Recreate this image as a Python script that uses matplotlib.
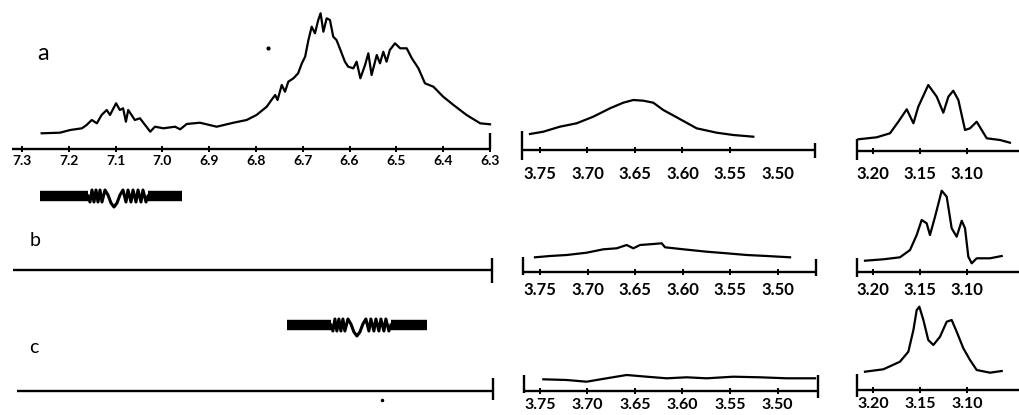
import matplotlib
matplotlib.use('Agg')
import matplotlib.pyplot as plt

plt.rcParams['font.family'] = ['Lato', 'DejaVu Sans']

# ---------------- data (ppm, intensity in arbitrary units) ----------------
a1_ppm = [7.258, 7.219, 7.197, 7.172, 7.162, 7.151, 7.140, 7.130, 7.119, 7.112,
          7.099, 7.091, 7.084, 7.078, 7.073, 7.066, 7.059, 7.048, 7.037, 7.026,
          7.016, 6.998, 6.973, 6.962, 6.948, 6.920, 6.884, 6.848, 6.820, 6.799,
          6.777, 6.767, 6.759, 6.754, 6.745, 6.738, 6.731, 6.720, 6.710, 6.702,
          6.695, 6.688, 6.681, 6.674, 6.667, 6.662, 6.656, 6.649, 6.642, 6.635,
          6.628, 6.621, 6.610, 6.603, 6.592, 6.585, 6.577, 6.567, 6.560, 6.553,
          6.542, 6.535, 6.528, 6.521, 6.514, 6.503, 6.492, 6.478, 6.467, 6.453,
          6.439, 6.421, 6.400, 6.378, 6.350, 6.321, 6.300]
a1_int = [15.7, 16.3, 19, 20.7, 24, 29, 25.7, 34, 39, 34,
          45.7, 39, 40.7, 27.3, 39, 34, 29, 30.7, 24, 17.3,
          22.3, 20.7, 22.3, 19.7, 25, 26.3, 22.3, 26.3, 29, 34,
          42.3, 49, 54, 49, 64, 57.3, 67.3, 70.7, 75.7, 85.7,
          92.3, 109, 122.3, 115.7, 129, 135.7, 117.3, 130.7, 129, 112.3,
          109, 100.7, 87.3, 82.3, 80.7, 87.3, 70.7, 84, 95.7, 74,
          94, 85.7, 97.3, 87.3, 99, 105.7, 100.7, 100.7, 90.7, 80.7,
          65.7, 62.3, 52.3, 44, 34, 25.7, 24.7]

a2_ppm = [3.7605, 3.7465, 3.729, 3.7114, 3.6939, 3.6763, 3.6623, 3.6518, 3.6412,
          3.6307, 3.6202, 3.6061, 3.5851, 3.564, 3.5465, 3.5254]
a2_int = [16, 18.3, 23.3, 26.7, 33.3, 41.7, 47.3, 50, 49.3,
          47.3, 40, 32.7, 21.7, 17.3, 15, 13.3]

a3_ppm = [3.2156, 3.1961, 3.1819, 3.173, 3.1641, 3.157, 3.1518, 3.1412, 3.1322,
          3.1252, 3.1198, 3.1146, 3.1092, 3.1021, 3.0968, 3.0897, 3.0844, 3.079,
          3.0649, 3.0543]
a3_int = [11.7, 13.7, 17.7, 29.3, 41.7, 27.7, 44.3, 66, 54.3,
          38.3, 54.3, 60.3, 51, 21, 22.7, 29.3, 21, 12.7,
          11, 8.3]

b2_ppm = [3.7553, 3.7395, 3.7219, 3.7009, 3.6833, 3.6693, 3.6588, 3.6518, 3.6447,
          3.6307, 3.6219, 3.6184, 3.5991, 3.5746, 3.5535, 3.5325, 3.5114, 3.4868]
b2_int = [14.7, 16, 17, 19.3, 22.7, 23.7, 27, 23.7, 27,
          28, 28.7, 24.7, 22.7, 20.3, 18.7, 17, 16, 14.7]

b3_ppm = [3.2085, 3.189, 3.1713, 3.1606, 3.1535, 3.1482, 3.1429, 3.1394, 3.1340,
          3.1269, 3.1216, 3.1163, 3.1110, 3.1056, 3.1021, 3.0986, 3.095, 3.0897,
          3.0755, 3.0631]
b3_int = [11.3, 12.7, 14.7, 22, 37, 52, 48.7, 37, 55.3,
          81.3, 75.3, 43.7, 35.3, 51.3, 43.7, 15.3, 8.7, 13.7,
          13.7, 16]

c2_ppm = [3.7465, 3.7219, 3.7009, 3.6798, 3.6588, 3.6377, 3.6167, 3.5956, 3.5746,
          3.5465, 3.5184, 3.4904, 3.4605]
c2_int = [11.7, 11, 9.3, 12.7, 16, 14.3, 12.7, 13.7, 12.7,
          14.3, 13.7, 12.7, 12.7]

c3_ppm = [3.2085, 3.189, 3.1713, 3.1624, 3.157, 3.1535, 3.1507, 3.1464, 3.1412,
          3.1358, 3.1287, 3.1216, 3.1163, 3.1110, 3.1039, 3.0968, 3.0897, 3.0755,
          3.0631]
c3_int = [18.3, 20.7, 28.3, 38.3, 60, 80, 83.3, 70, 50,
          45, 53.3, 68.3, 70, 58.3, 41.7, 30, 20, 17.3,
          19]

# ringing (sweep) traces drawn above baselines b and c
ring_b_ppm = [7.159, 7.1547, 7.1504, 7.1462, 7.1419, 7.1376, 7.1333, 7.1291, 7.1226,
              7.1162, 7.1098, 7.1034, 7.0970, 7.0906, 7.0842, 7.0778, 7.0735, 7.0671,
              7.0628, 7.0564, 7.0521, 7.0457, 7.0415, 7.0350, 7.0308]
ring_b_int = [74, 68, 80, 68, 80, 68, 80, 68, 80,
              75, 67, 63, 67, 75, 80, 68, 80, 68,
              80, 68, 80, 68, 80, 68, 74]
ring_b_blobs = [(7.2615, 7.159), (7.031, 6.958)]
ring_b_level = 74

ring_c_ppm = [6.640, 6.6357, 6.6314, 6.6272, 6.6229, 6.6186, 6.6143, 6.6101, 6.6036,
              6.5972, 6.5908, 6.5844, 6.5780, 6.5716, 6.5652, 6.5588, 6.5545, 6.5481,
              6.5438, 6.5374, 6.5331, 6.5267, 6.5225, 6.5160, 6.5118]
ring_c_int = [66, 60, 72, 60, 72, 60, 72, 60, 72,
              67, 59, 55, 59, 67, 72, 60, 72, 60,
              72, 60, 72, 60, 72, 60, 66]
ring_c_blobs = [(6.7338, 6.640), (6.512, 6.4346)]
ring_c_level = 66

p1_ticks = [7.3, 7.2, 7.1, 7.0, 6.9, 6.8, 6.7, 6.6, 6.5, 6.4, 6.3]
p1_labels = ['7.3', '7.2', '7.1', '7.0', '6.9', '6.8', '6.7', '6.6', '6.5', '6.4', '6.3']
p2_ticks = [3.75, 3.70, 3.65, 3.60, 3.55, 3.50]
p2_labels = ['3.75', '3.70', '3.65', '3.60', '3.55', '3.50']
p3_ticks = [3.20, 3.15, 3.10]
p3_labels = ['3.20', '3.15', '3.10']
row_letters = ['a', 'b', 'c']

# ---------------- layout ----------------
W, H = 1019, 415
fig = plt.figure(figsize=(W / 100, H / 100), dpi=100)
fig.patch.set_facecolor('white')
LW = 1.6


def panel(x0, x1, base, top, xlim, below=16):
    ax = fig.add_axes([x0 / W, (H - base - below) / H, (x1 - x0) / W, (top + below) / H])
    ax.set_xlim(*xlim)
    ax.set_ylim(-below, top)
    for s in ['top', 'right', 'left']:
        ax.spines[s].set_visible(False)
    ax.spines['bottom'].set_position(('data', 0))
    ax.spines['bottom'].set_linewidth(1.7)
    ax.spines['bottom'].set_capstyle('butt')
    ax.set_yticks([])
    ax.patch.set_visible(False)
    return ax


def ticks(ax, t, labels, size, pad):
    ax.set_xticks(t)
    if labels is None:
        ax.set_xticklabels([''] * len(t))
    else:
        ax.set_xticklabels(labels, fontsize=size, fontweight='bold')
    ax.tick_params(axis='x', direction='inout', length=5, width=1.4, pad=pad,
                   color='black')


def bar(ax, side, lo, hi):
    x = ax.get_xlim()[0 if side == 'left' else 1]
    ax.vlines(x, lo, hi, color='black', lw=1.7, clip_on=False)


# Row a
ax = panel(12, 490, 149, 145, (7.3214, 6.3))
ax.plot(a1_ppm, a1_int, color='black', lw=LW, clip_on=False)
ax.plot([6.774], [101], 'o', color='black', ms=2)
ticks(ax, p1_ticks, p1_labels, 10, 1.5)
bar(ax, 'right', 0, 16)

ax = panel(522, 815, 150, 60, (3.7689, 3.4605))
ax.plot(a2_ppm, a2_int, color='black', lw=LW)
ticks(ax, p2_ticks[:5], p2_labels[:5], 12, 9)
ax.set_xticks(p2_ticks[5:], minor=True)
ax.set_xticklabels([p2_labels[5]], minor=True, fontsize=12, fontweight='bold')
ax.tick_params(axis='x', which='minor', length=0, pad=11.5)
bar(ax, 'left', -10, 19)
bar(ax, 'right', -8, 7)

ax = panel(857, 1019, 151, 75, (3.2170, 3.0447))
ax.plot(a3_ppm, a3_int, color='black', lw=LW)
ticks(ax, p3_ticks, p3_labels, 12, 8.5)
bar(ax, 'left', -9, 12)

# Row b
ax = panel(13, 492, 270, 90, (7.3192, 6.2957))
ax.set_xticks([])
bar(ax, 'right', -13, 12)
for lo, hi in ring_b_blobs:
    ax.plot([lo, hi], [ring_b_level, ring_b_level], color='black', lw=7.5,
            solid_capstyle='butt')
ax.plot(ring_b_ppm, ring_b_int, color='black', lw=2.2)

ax = panel(523, 816, 272, 60, (3.7679, 3.4595))
ax.plot(b2_ppm, b2_int, color='black', lw=LW)
ticks(ax, p2_ticks, p2_labels, 12, 5)
bar(ax, 'left', -3, 15)
bar(ax, 'right', -4, 13)

ax = panel(857, 1019, 272, 90, (3.2170, 3.0447))
ax.plot(b3_ppm, b3_int, color='black', lw=LW)
ticks(ax, p3_ticks, p3_labels, 12, 4.5)
bar(ax, 'left', -5, 14)

# Row c
ax = panel(17, 493, 391, 90, (7.3107, 6.2936))
ax.set_xticks([])
bar(ax, 'right', -9, 13)
for lo, hi in ring_c_blobs:
    ax.plot([lo, hi], [ring_c_level, ring_c_level], color='black', lw=7.5,
            solid_capstyle='butt')
ax.plot(ring_c_ppm, ring_c_int, color='black', lw=2.2)
ax.plot([6.531], [-9], 'o', color='black', ms=1.5)

ax = panel(524, 818, 391, 60, (3.7668, 3.4574))
ax.plot(c2_ppm, c2_int, color='black', lw=LW)
ticks(ax, p2_ticks, p2_labels, 11.5, 2.5)
bar(ax, 'left', -2, 16)
bar(ax, 'right', -7, 16)

ax = panel(857, 1019, 390, 90, (3.2170, 3.0447))
ax.plot(c3_ppm, c3_int, color='black', lw=LW)
ticks(ax, p3_ticks, p3_labels, 11.5, 2.5)
bar(ax, 'left', -7, 16)

# Row letters
fig.text(43 / W, 1 - 54 / H, row_letters[0], fontsize=17, ha='center', va='center')
fig.text(35 / W, 1 - 240 / H, row_letters[1], fontsize=14, ha='center', va='center')
fig.text(34 / W, 1 - 347 / H, row_letters[2], fontsize=14, ha='center', va='center')

fig.savefig('out.png', dpi=100, facecolor='white')
